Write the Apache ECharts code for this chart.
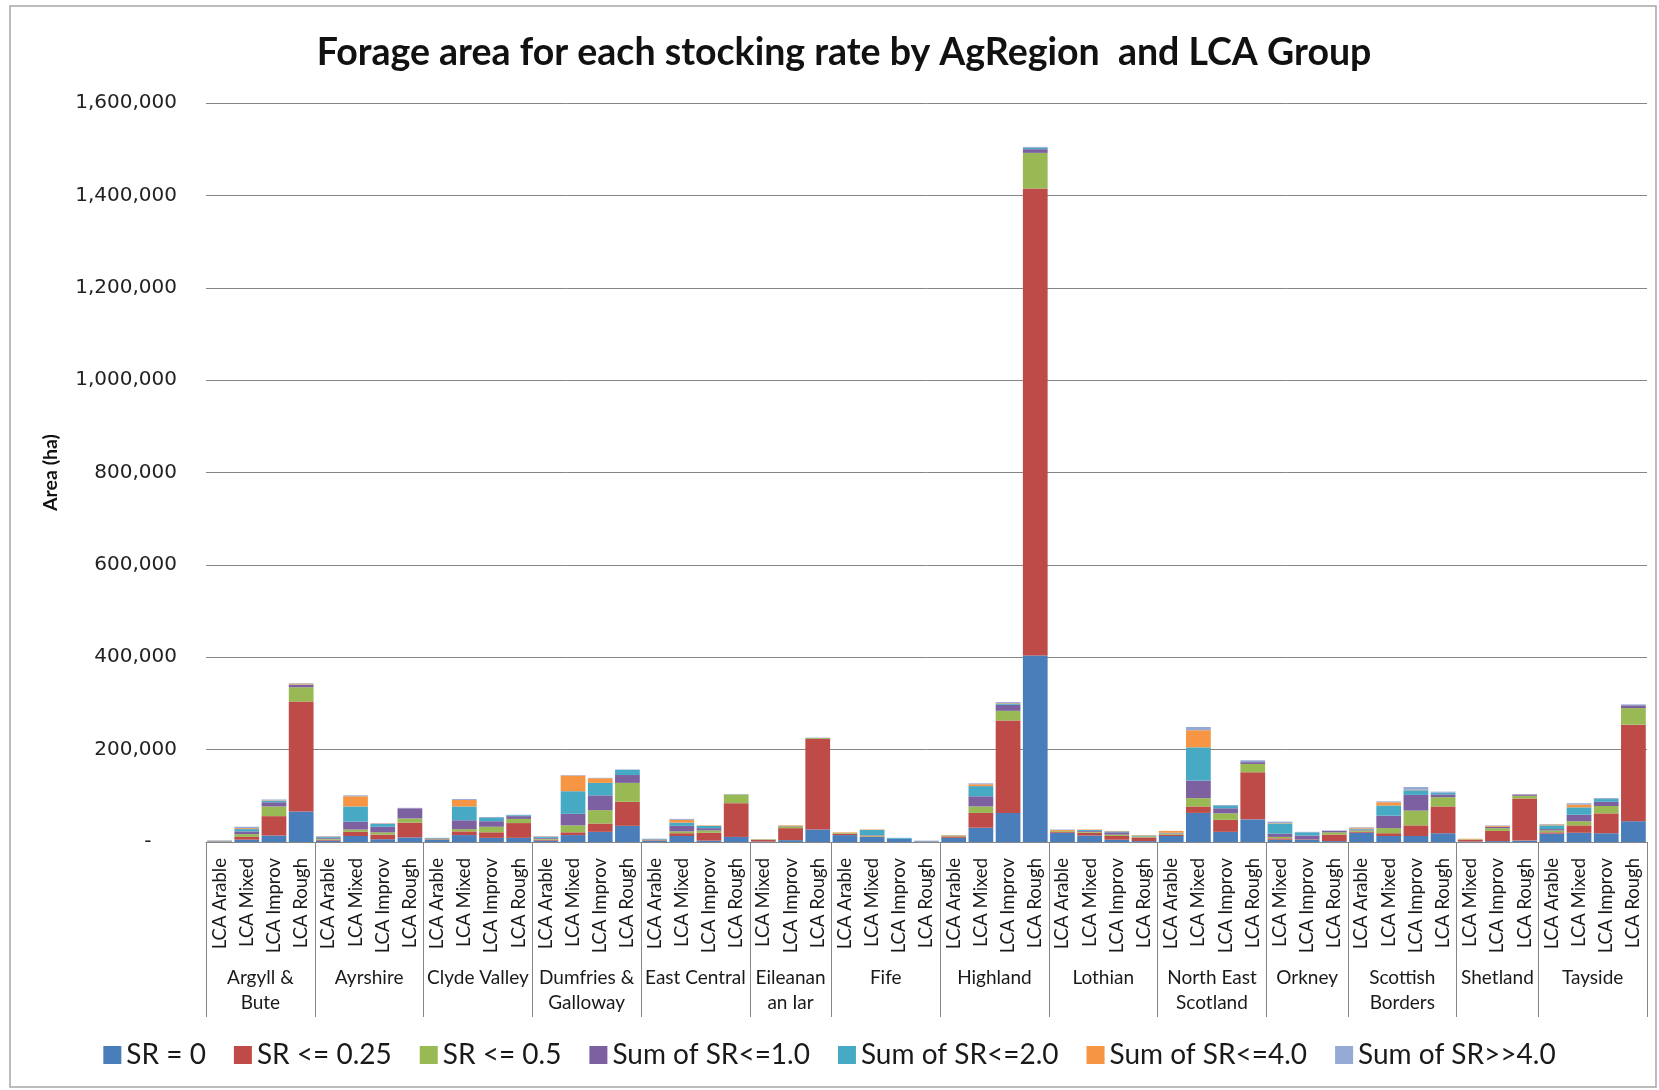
<!DOCTYPE html>
<html>
<head>
<meta charset="utf-8">
<title>Forage area for each stocking rate</title>
<script src="https://cdn.jsdelivr.net/npm/echarts@6.0.0/dist/echarts.min.js"></script>
<style>
  html, body { margin: 0; padding: 0; background: #fff; }
  #chart { width: 1659px; height: 1090px; }
</style>
</head>
<body>
<div id="chart"></div>
<script>
// 地区 (AgRegion) 以及每个地区下面的 LCA 分组
var regions = ['Argyll &\nBute', 'Ayrshire', 'Clyde Valley', 'Dumfries &\nGalloway', 'East Central',
  'Eileanan\nan Iar', 'Fife', 'Highland', 'Lothian', 'North East\nScotland', 'Orkney',
  'Scottish\nBorders', 'Shetland', 'Tayside'];
var regionGroups = [
  ['LCA Arable', 'LCA Mixed', 'LCA Improv', 'LCA Rough'],
  ['LCA Arable', 'LCA Mixed', 'LCA Improv', 'LCA Rough'],
  ['LCA Arable', 'LCA Mixed', 'LCA Improv', 'LCA Rough'],
  ['LCA Arable', 'LCA Mixed', 'LCA Improv', 'LCA Rough'],
  ['LCA Arable', 'LCA Mixed', 'LCA Improv', 'LCA Rough'],
  ['LCA Mixed', 'LCA Improv', 'LCA Rough'],
  ['LCA Arable', 'LCA Mixed', 'LCA Improv', 'LCA Rough'],
  ['LCA Arable', 'LCA Mixed', 'LCA Improv', 'LCA Rough'],
  ['LCA Arable', 'LCA Mixed', 'LCA Improv', 'LCA Rough'],
  ['LCA Arable', 'LCA Mixed', 'LCA Improv', 'LCA Rough'],
  ['LCA Mixed', 'LCA Improv', 'LCA Rough'],
  ['LCA Arable', 'LCA Mixed', 'LCA Improv', 'LCA Rough'],
  ['LCA Mixed', 'LCA Improv', 'LCA Rough'],
  ['LCA Arable', 'LCA Mixed', 'LCA Improv', 'LCA Rough']
];

// 图例名称
var seriesNames = ['SR = 0', 'SR <= 0.25', 'SR <= 0.5', 'Sum of SR<=1.0', 'Sum of SR<=2.0', 'Sum of SR<=4.0', 'Sum of SR>>4.0'];

// 每个系列的数据 (ha), 顺序和上面的分组一一对应
var sr0 = [1000, 5000, 14000, 66000, 3000, 13000, 6000, 10000, 5000, 15000, 9000, 9000,
  3000, 15000, 22000, 35000, 3000, 13000, 3000, 11000, 1000, 4000, 27000,
  15000, 11000, 7000, 1000, 9000, 31000, 63000, 404000, 20000, 14000, 5000, 2000,
  13000, 63000, 22000, 49000, 5000, 5000, 2000, 20000, 13000, 13000, 19000,
  1000, 2000, 3000, 18000, 20000, 19000, 45000];
var sr025 = [500, 6000, 42000, 238000, 2000, 9000, 10000, 32000, 1000, 8000, 12000, 32000,
  2000, 6000, 18000, 52000, 1000, 6000, 17000, 73000, 4000, 26000, 196000,
  3000, 1000, 0, 500, 3000, 32000, 200000, 1011000, 2000, 6000, 8000, 8000,
  3000, 14000, 26000, 102000, 3000, 1000, 14000, 2000, 6000, 23000, 58000,
  4000, 22000, 91000, 3000, 16000, 43000, 209000];
var sr05 = [500, 6000, 21000, 31000, 2000, 5000, 5000, 9000, 1000, 5000, 12000, 9000,
  2000, 15000, 29000, 41000, 1000, 4000, 5000, 19000, 1000, 4000, 2000,
  2000, 2000, 0, 0, 1000, 14000, 21000, 77000, 2000, 2000, 3000, 2000,
  2000, 18000, 14000, 18000, 3000, 0, 5000, 3000, 11000, 32000, 20000,
  1000, 6000, 6000, 4000, 9000, 16000, 36000];
var sr10 = [500, 6000, 9000, 5000, 2000, 17000, 12000, 22000, 1000, 19000, 12000, 6000,
  2000, 25000, 32000, 17000, 1000, 12000, 5000, 0, 0, 1000, 0,
  0, 1000, 0, 0, 0, 22000, 13000, 8000, 0, 2000, 5000, 0,
  1000, 38000, 11000, 4000, 7000, 8000, 3000, 2000, 27000, 34000, 6000,
  0, 3000, 3000, 3000, 14000, 9000, 6000];
var sr20 = [500, 5000, 3000, 1000, 2000, 33000, 6000, 0, 1000, 30000, 7000, 2000,
  2000, 49000, 27000, 11000, 1000, 7000, 5000, 0, 0, 0, 0,
  0, 11000, 2000, 500, 1000, 22000, 3000, 3000, 0, 2000, 2000, 2000,
  1000, 72000, 5000, 0, 22000, 7000, 0, 2000, 22000, 10000, 4000,
  0, 0, 0, 8000, 16000, 6000, 0];
var sr40 = [300, 2000, 1000, 2000, 1000, 22000, 1000, 0, 0, 14000, 0, 0,
  1000, 34000, 10000, 0, 0, 6000, 1000, 0, 0, 1000, 0,
  1000, 1000, 0, 0, 1000, 4000, 1000, 0, 2000, 1000, 1000, 1000,
  4000, 37000, 0, 0, 1000, 0, 0, 2000, 7000, 1000, 0,
  1000, 2000, 0, 2000, 6000, 0, 0];
var sr4p = [300, 3000, 2000, 1000, 1000, 2000, 1000, 1000, 0, 2000, 2000, 1000,
  1000, 1000, 1000, 1000, 0, 2000, 0, 1000, 0, 0, 1000,
  0, 0, 0, 1000, 0, 2000, 2000, 2000, 1000, 0, 0, 0,
  0, 7000, 2000, 4000, 3000, 1000, 1000, 1000, 2000, 6000, 2000,
  0, 1000, 0, 1000, 3000, 2000, 2000];

var colors = ['#4A7EBB', '#BE4B48', '#98B954', '#7D60A0', '#46AAC5', '#F69544', '#94A9D4'];

// 把分组展开成横轴的类目, 同时算出每个地区的边界和中点
var categories = [];
var bounds = [0];
var centers = [];
var centerName = {};
for (var i = 0; i < regionGroups.length; i++) {
  var start = categories.length;
  for (var j = 0; j < regionGroups[i].length; j++) {
    categories.push(regionGroups[i][j]);
  }
  bounds.push(categories.length);
  var c = (start + categories.length) / 2;
  centers.push(c);
  centerName[String(c)] = regions[i];
}

var allData = [sr0, sr025, sr05, sr10, sr20, sr40, sr4p];
var series = [];
for (var k = 0; k < seriesNames.length; k++) {
  series.push({
    name: seriesNames[k],
    type: 'bar',
    stack: 'total',
    barCategoryGap: '9%',
    xAxisIndex: 0,
    itemStyle: { color: colors[k] },
    data: allData[k]
  });
}

var chart = echarts.init(document.getElementById('chart'));

var option = {
  animation: false,
  textStyle: { fontFamily: 'Lato' },
  title: {
    text: 'Forage area for each stocking rate by AgRegion  and LCA Group',
    left: 839,
    textAlign: 'center',
    top: 29,
    textStyle: { fontFamily: 'Lato', fontWeight: 'bold', fontSize: 37.5, color: '#111' }
  },
  // 外框
  graphic: [{
    type: 'rect',
    shape: { x: 10, y: 6, width: 1646, height: 1081 },
    style: { fill: 'none', stroke: '#A6A6A6', lineWidth: 1.5 }
  }],
  legend: {
    top: 1036,
    left: 'center',
    icon: 'rect',
    itemWidth: 18,
    itemHeight: 18,
    itemGap: 28,
    textStyle: { fontFamily: 'Lato', fontSize: 28, color: '#1a1a1a' },
    data: seriesNames
  },
  grid: { left: 206, right: 12, top: 103, bottom: 248 },
  xAxis: [{
    type: 'category',
    data: categories,
    axisLine: { lineStyle: { color: '#868686', width: 1 } },
    axisTick: { show: false },
    axisLabel: {
      interval: 0,
      rotate: 90,
      margin: 16,
      fontFamily: 'Lato',
      fontSize: 18.5,
      color: '#1a1a1a'
    }
  }, {
    // 第二层: 地区名称和分隔竖线
    type: 'value',
    min: 0,
    max: categories.length,
    position: 'bottom',
    axisLine: { show: false },
    splitLine: { show: false },
    axisTick: {
      show: true,
      customValues: bounds,
      length: 175,
      lineStyle: { color: '#868686', width: 1 }
    },
    axisLabel: {
      customValues: centers,
      margin: 123,
      fontFamily: 'Lato',
      fontSize: 19,
      lineHeight: 25,
      color: '#1a1a1a',
      formatter: function (v) { return centerName[String(v)] || ''; }
    }
  }],
  yAxis: {
    type: 'value',
    min: 0,
    max: 1600000,
    interval: 200000,
    name: 'Area (ha)',
    nameLocation: 'middle',
    nameGap: 145,
    nameTextStyle: { fontFamily: 'Lato', fontWeight: 'bold', fontSize: 19.5, color: '#111' },
    axisLine: { show: false },
    axisTick: { show: false },
    splitLine: { lineStyle: { color: '#868686', width: 1 } },
    axisLabel: {
      margin: 29,
      fontFamily: 'DejaVu Sans',
      fontSize: 20,
      color: '#222',
      formatter: function (v) {
        if (v === 0) return '-    ';
        return v.toString().replace(/\B(?=(\d{3})+(?!\d))/g, ',');
      }
    }
  },
  series: series
};

chart.setOption(option);
</script>
</body>
</html>
